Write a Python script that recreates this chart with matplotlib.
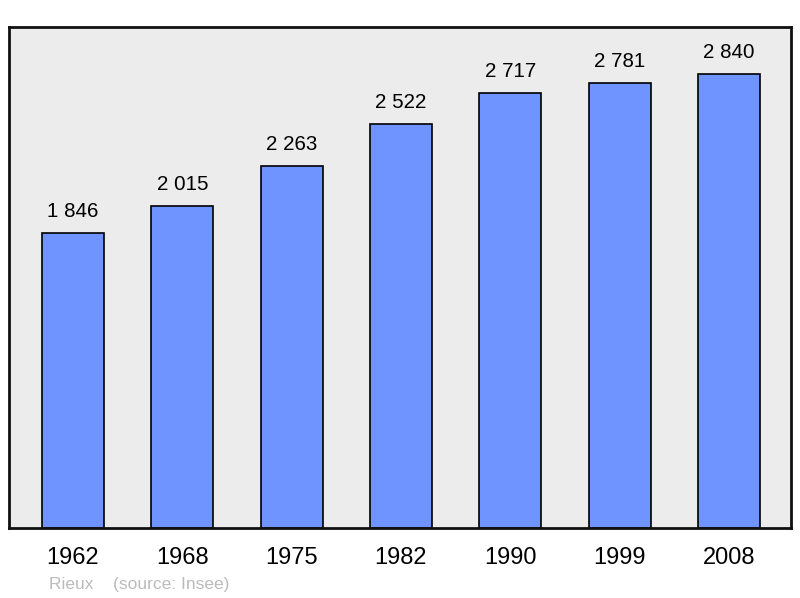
import matplotlib.pyplot as plt

years = ["1962", "1968", "1975", "1982", "1990", "1999", "2008"]
population = [1846, 2015, 2263, 2522, 2717, 2781, 2840]
labels = ["1 846", "2 015", "2 263", "2 522", "2 717", "2 781", "2 840"]

plt.rcParams['font.family'] = ['Liberation Sans', 'DejaVu Sans']

fig = plt.figure(figsize=(8, 5.98), dpi=100)
ax = fig.add_axes([9 / 800, 1 - 528 / 598, 782 / 800, 501 / 598])
ax.set_facecolor("#ececec")

x = range(len(years))
ax.bar(x, population, width=0.567, color="#7094ff", edgecolor="black", linewidth=1.2, zorder=2)

for i, v in enumerate(population):
    ax.text(i, v + 75, labels[i], ha="center", va="bottom", fontsize=14.8, color="black")

ax.set_xlim(-0.585, 6.567)
ax.set_ylim(0, 3131)
ax.set_yticks([])
ax.set_xticks(list(x))
ax.set_xticklabels(years, fontsize=17)
ax.tick_params(axis="x", length=0, pad=14)
for s in ax.spines.values():
    s.set_linewidth(2)
    s.set_color("#111111")

fig.text(49 / 800, 1 - 584 / 598, "Rieux    (source: Insee)", fontsize=12.5, color="#bbbbbb", va="center")

fig.savefig("out.png", dpi=100)
